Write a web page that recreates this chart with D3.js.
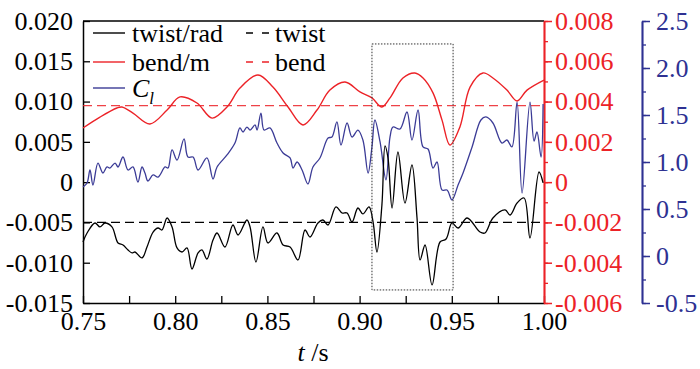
<!DOCTYPE html>
<html lang="en">
<head>
<meta charset="UTF-8"/>
<title>twist / bend / CL</title>
<script src="https://d3js.org/d3.v7.min.js"></script>
<style>
  body { margin: 0; background: #fff; }
  text { font-family: "Liberation Serif", "Times New Roman", serif; }
</style>
</head>
<body>
<script>
// bend (red, right axis)
var tBend = [0.75, 0.7592, 0.7684, 0.7711, 0.7771, 0.7863, 0.7956, 0.8026, 0.8118, 0.82, 0.8281, 0.8351,
  0.8449, 0.853, 0.8612, 0.8693, 0.8769, 0.8839, 0.8921, 0.9002, 0.9067, 0.9121, 0.9165, 0.9235, 0.93,
  0.9344, 0.9398, 0.9447, 0.949, 0.9544, 0.9599, 0.9669, 0.9723, 0.9799, 0.9854, 0.9908, 1.0];
var bend = [0.00269, 0.00323, 0.00368, 0.00373, 0.00343, 0.00289, 0.00358, 0.00423, 0.00393, 0.00318, 0.00373, 0.00467,
  0.00532, 0.00472, 0.00373, 0.00284, 0.00358, 0.00457, 0.00497, 0.00448, 0.00418, 0.00373, 0.00418, 0.00517, 0.00542,
  0.00517, 0.00443, 0.00308, 0.00184, 0.00274, 0.00472, 0.00542, 0.00517, 0.00457, 0.00403, 0.00457, 0.00507];

// lift coefficient (blue, far right axis)
var tCl = [0.75, 0.7522, 0.7538, 0.7554, 0.7581, 0.7608, 0.763, 0.7646, 0.7674, 0.769, 0.7717, 0.7744, 0.7771,
  0.7798, 0.782, 0.7836, 0.7852, 0.788, 0.7907, 0.7945, 0.7961, 0.7983, 0.801, 0.8048, 0.8069, 0.8097, 0.8124,
  0.8172, 0.8205, 0.8227, 0.8281, 0.8324, 0.8351, 0.8368, 0.8389, 0.8406, 0.8433, 0.8444, 0.8465, 0.8482, 0.8514,
  0.8552, 0.8585, 0.8623, 0.8639, 0.8661, 0.8688, 0.872, 0.8747, 0.8785, 0.8829, 0.885, 0.8877, 0.8899, 0.8932,
  0.8959, 0.8991, 0.9018, 0.9046, 0.9067, 0.9083, 0.9111, 0.9143, 0.9165, 0.9181, 0.9219, 0.9257, 0.9284, 0.9317,
  0.9344, 0.9371, 0.9398, 0.942, 0.9447, 0.9474, 0.9501, 0.9534, 0.9561, 0.961, 0.9658, 0.9685, 0.9723, 0.9772,
  0.9799, 0.9826, 0.9854, 0.9881, 0.9924, 0.9946, 0.9962, 0.9984, 0.9995];
var cl = [0.734, 0.777, 0.915, 0.755, 0.989, 0.883, 0.947, 0.936, 0.989, 0.947, 1.053, 0.915, 0.947,
  0.787, 0.947, 0.883, 0.798, 0.862, 0.840, 0.947, 0.936, 1.128, 1.021, 1.245, 1.053, 1.053, 0.915,
  1.043, 0.819, 0.947, 1.075, 1.202, 1.362, 1.319, 1.372, 1.340, 1.394, 1.340, 1.521, 1.340, 1.362,
  1.202, 1.096, 1.043, 0.936, 1.000, 0.915, 0.766, 0.947, 1.043, 1.255, 1.266, 1.426, 1.181, 1.415,
  1.266, 1.340, 1.234, 0.883, 1.160, 1.447, 1.213, 0.809, 1.266, 1.372, 1.351, 1.532, 1.234, 1.553,
  1.160, 1.138, 0.936, 1.000, 0.702, 0.702, 0.596, 0.755, 0.883, 1.160, 1.447, 1.479, 1.415, 1.202,
  1.234, 1.160, 1.638, 0.670, 1.638, 1.223, 1.319, 1.053, 1.617];

// twist (black, left axis)
var tTwist = [0.75, 0.7522, 0.7565, 0.7592, 0.7619, 0.7657, 0.769, 0.7717, 0.7744, 0.7766, 0.7782, 0.782,
  0.7847, 0.788, 0.7907, 0.7928, 0.7956, 0.7983, 0.801, 0.8037, 0.8064, 0.8091, 0.8124, 0.8145, 0.8172,
  0.8205, 0.8227, 0.827, 0.8313, 0.8341, 0.8389, 0.8406, 0.8438, 0.8476, 0.8503, 0.8552, 0.8585, 0.8623,
  0.8666, 0.8704, 0.8731, 0.8774, 0.8801, 0.8829, 0.8872, 0.8905, 0.8932, 0.8959, 0.8991, 0.9018, 0.9051,
  0.9073, 0.9094, 0.9121, 0.9138, 0.9154, 0.9176, 0.9208, 0.9246, 0.9284, 0.9311, 0.9328, 0.9355, 0.9393,
  0.9436, 0.9469, 0.9501, 0.9534, 0.9583, 0.9653, 0.968, 0.9723, 0.9789, 0.9816, 0.9854, 0.9892, 0.9924,
  0.9973, 0.9995];
var twist = [-0.00743, -0.00631, -0.00507, -0.00556, -0.00507, -0.00556, -0.00755, -0.0078, -0.00842, -0.00879, -0.00867, -0.00941,
  -0.00805, -0.00619, -0.00569, -0.00594, -0.00445, -0.00556, -0.00817, -0.00867, -0.00817, -0.01078, -0.00879, -0.00842, -0.00954,
  -0.00718, -0.00631, -0.00805, -0.00532, -0.00656, -0.0047, -0.00556, -0.00991, -0.00556, -0.00755, -0.00631, -0.0078, -0.00805,
  -0.00966, -0.00594, -0.00681, -0.00507, -0.0047, -0.00532, -0.00308, -0.00383, -0.00383, -0.00494, -0.00321, -0.00395, -0.00308,
  -0.00494, -0.00867, -0.00283, 0.00449, 0.003, -0.00321, 0.00374, -0.00259, 0.00213, -0.00432, -0.00966, -0.0078, -0.01276,
  -0.00743, -0.00705, -0.00507, -0.00569, -0.00445, -0.00619, -0.00631, -0.00445, -0.00345, -0.00408, -0.00259, -0.00197, -0.00693,
  0.00126, -0.0001];

// reference levels (dashed)
var twistRef = -0.005;
var bendRef = 0.0038;

// dotted box (t range, twist-axis range)
var boxT = [0.9067, 0.9507];
var boxV = [-0.01338, 0.01715];

var xTicks = [0.75, 0.80, 0.85, 0.90, 0.95, 1.00];
var leftTicks = [-0.015, -0.010, -0.005, 0, 0.005, 0.010, 0.015, 0.020];
var redTicks = [-0.006, -0.004, -0.002, 0, 0.002, 0.004, 0.006, 0.008];
var blueTicks = [-0.5, 0, 0.5, 1.0, 1.5, 2.0, 2.5];

var w = 700, h = 369;
var mLeft = 83, mRight = 544, mTop = 21, mBottom = 303;
var red = "#ec2227", blue = "#2e3192", blueLine = "#3b3b96";
var fs = 26;
var serif = "'Liberation Serif', 'Times New Roman', serif";

var svg = d3.select("body").append("svg").attr("width", w).attr("height", h);

var x = d3.scaleLinear().domain([0.75, 1.0]).range([mLeft, mRight]);
var yL = d3.scaleLinear().domain([-0.015, 0.020]).range([mBottom, mTop]);
var yR = d3.scaleLinear().domain([-0.006, 0.008]).range([mBottom, mTop]);
var yB = d3.scaleLinear().domain([-0.5, 2.5]).range([mBottom, mTop]);

function fmt3(d) { return d === 0 ? "0" : d3.format(".3f")(d).replace("−", "-"); }
function fmt1(d) { return d === 0 ? "0" : d3.format(".1f")(d).replace("−", "-"); }

// left axis
var gL = svg.append("g").attr("transform", "translate(" + mLeft + ",0)")
  .call(d3.axisLeft(yL).tickValues(leftTicks).tickSizeInner(-7).tickSizeOuter(0).tickPadding(10).tickFormat(fmt3))
  .attr("font-family", serif);
gL.select(".domain").attr("stroke-width", 1.5);
gL.selectAll("line").attr("stroke-width", 1.3);
gL.selectAll("text").attr("font-size", fs).attr("fill", "#000");

// bottom axis with minor ticks
var minorX = d3.range(0, 11).map(function(i) { return 0.75 + i * 0.025; });
var gX = svg.append("g").attr("transform", "translate(0," + mBottom + ")")
  .call(d3.axisBottom(x).tickValues(minorX).tickSizeInner(-7).tickSizeOuter(0).tickFormat(""));
gX.select(".domain").attr("stroke-width", 1.5);
gX.selectAll("line").attr("stroke-width", 1.3);
var gXl = svg.append("g").attr("transform", "translate(0," + mBottom + ")")
  .call(d3.axisBottom(x).tickValues(xTicks).tickSize(0).tickPadding(9).tickFormat(d3.format(".2f")))
  .attr("font-family", serif);
gXl.select(".domain").remove();
gXl.selectAll("text").attr("font-size", fs).attr("fill", "#000");

// top frame line
svg.append("line").attr("x1", mLeft).attr("x2", mRight).attr("y1", mTop).attr("y2", mTop)
  .attr("stroke", "#000").attr("stroke-width", 1.5);

// red right axis
var redMinor = d3.range(0, 15).map(function(i) { return -0.006 + i * 0.001; });
var gR = svg.append("g").attr("transform", "translate(" + mRight + ",0)")
  .call(d3.axisRight(yR).tickValues(redMinor).tickSizeInner(4).tickSizeOuter(0).tickFormat(""));
gR.selectAll("line,path").attr("stroke", red).attr("stroke-width", 1.3);
gR.select(".domain").attr("stroke-width", 1.8);
var gR2 = svg.append("g").attr("transform", "translate(" + mRight + ",0)")
  .call(d3.axisRight(yR).tickValues(redTicks).tickSizeInner(8).tickSizeOuter(0).tickPadding(3).tickFormat(fmt3))
  .attr("font-family", serif);
gR2.selectAll("line,path").attr("stroke", red).attr("stroke-width", 1.5);
gR2.selectAll("text").attr("font-size", fs).attr("fill", red);

// blue right axis
var blueX = 642;
var blueMinor = d3.range(0, 13).map(function(i) { return -0.5 + i * 0.25; });
var gB = svg.append("g").attr("transform", "translate(" + blueX + ",0)")
  .call(d3.axisRight(yB).tickValues(blueMinor).tickSizeInner(4).tickSizeOuter(0).tickFormat(""));
gB.selectAll("line,path").attr("stroke", blue).attr("stroke-width", 1.3);
gB.select(".domain").attr("stroke-width", 1.8);
var gB2 = svg.append("g").attr("transform", "translate(" + blueX + ",0)")
  .call(d3.axisRight(yB).tickValues(blueTicks).tickSizeInner(8).tickSizeOuter(0).tickPadding(6).tickFormat(fmt1))
  .attr("font-family", serif);
gB2.selectAll("line,path").attr("stroke", blue).attr("stroke-width", 1.5);
gB2.selectAll("text").attr("font-size", fs).attr("fill", blue);

// dashed reference lines
svg.append("line").attr("x1", mLeft).attr("x2", mRight).attr("y1", yR(bendRef)).attr("y2", yR(bendRef))
  .attr("stroke", red).attr("stroke-width", 1.4).attr("stroke-dasharray", "9,5").attr("opacity", 0.85);
svg.append("line").attr("x1", mLeft).attr("x2", mRight).attr("y1", yL(twistRef)).attr("y2", yL(twistRef))
  .attr("stroke", "#000").attr("stroke-width", 1.3).attr("stroke-dasharray", "9,5");

// curves
function series(ts, vs) { return ts.map(function(t, i) { return [t, vs[i]]; }); }
var curve = d3.curveCatmullRom.alpha(0.5);

svg.append("path").datum(series(tBend, bend))
  .attr("d", d3.line().x(function(d) { return x(d[0]); }).y(function(d) { return yR(d[1]); }).curve(curve))
  .attr("fill", "none").attr("stroke", red).attr("stroke-width", 1.4);

svg.append("path").datum(series(tCl, cl))
  .attr("d", d3.line().x(function(d) { return x(d[0]); }).y(function(d) { return yB(d[1]); }).curve(curve))
  .attr("fill", "none").attr("stroke", blueLine).attr("stroke-width", 1.3);

svg.append("path").datum(series(tTwist, twist))
  .attr("d", d3.line().x(function(d) { return x(d[0]); }).y(function(d) { return yL(d[1]); }).curve(curve))
  .attr("fill", "none").attr("stroke", "#000").attr("stroke-width", 1.3);

// dotted box
svg.append("rect")
  .attr("x", x(boxT[0])).attr("y", yL(boxV[1]))
  .attr("width", x(boxT[1]) - x(boxT[0])).attr("height", yL(boxV[0]) - yL(boxV[1]))
  .attr("fill", "none").attr("stroke", "#333").attr("stroke-width", 1).attr("stroke-dasharray", "1.5,1.5");

// legend
var leg = svg.append("g").attr("font-family", serif);
function legLine(x1, len, y, color, dash) {
  leg.append("line").attr("x1", x1).attr("x2", x1 + len).attr("y1", y).attr("y2", y)
    .attr("stroke", color).attr("stroke-width", 1.4).attr("stroke-dasharray", dash || null);
}
function legText(x1, y, s) {
  return leg.append("text").attr("x", x1).attr("y", y + 9).attr("font-size", fs).text(s);
}
legLine(93, 32, 33, "#000"); legText(132, 33, "twist/rad");
legLine(246, 23, 33, "#000", "7,9"); legText(275, 33, "twist");
legLine(93, 32, 62, red); legText(132, 62, "bend/m");
legLine(246, 23, 62, red, "7,9"); legText(275, 62, "bend");
legLine(93, 32, 88, blueLine);
var cText = legText(132, 88, "");
cText.append("tspan").attr("font-style", "italic").text("C");
cText.append("tspan").attr("font-style", "italic").attr("font-size", 17).attr("dy", 7).text("l");

// x label
var xl = svg.append("text").attr("x", 313).attr("y", 361).attr("text-anchor", "middle").attr("font-size", fs);
xl.append("tspan").attr("font-style", "italic").text("t");
xl.append("tspan").text(" /s");
</script>
</body>
</html>
